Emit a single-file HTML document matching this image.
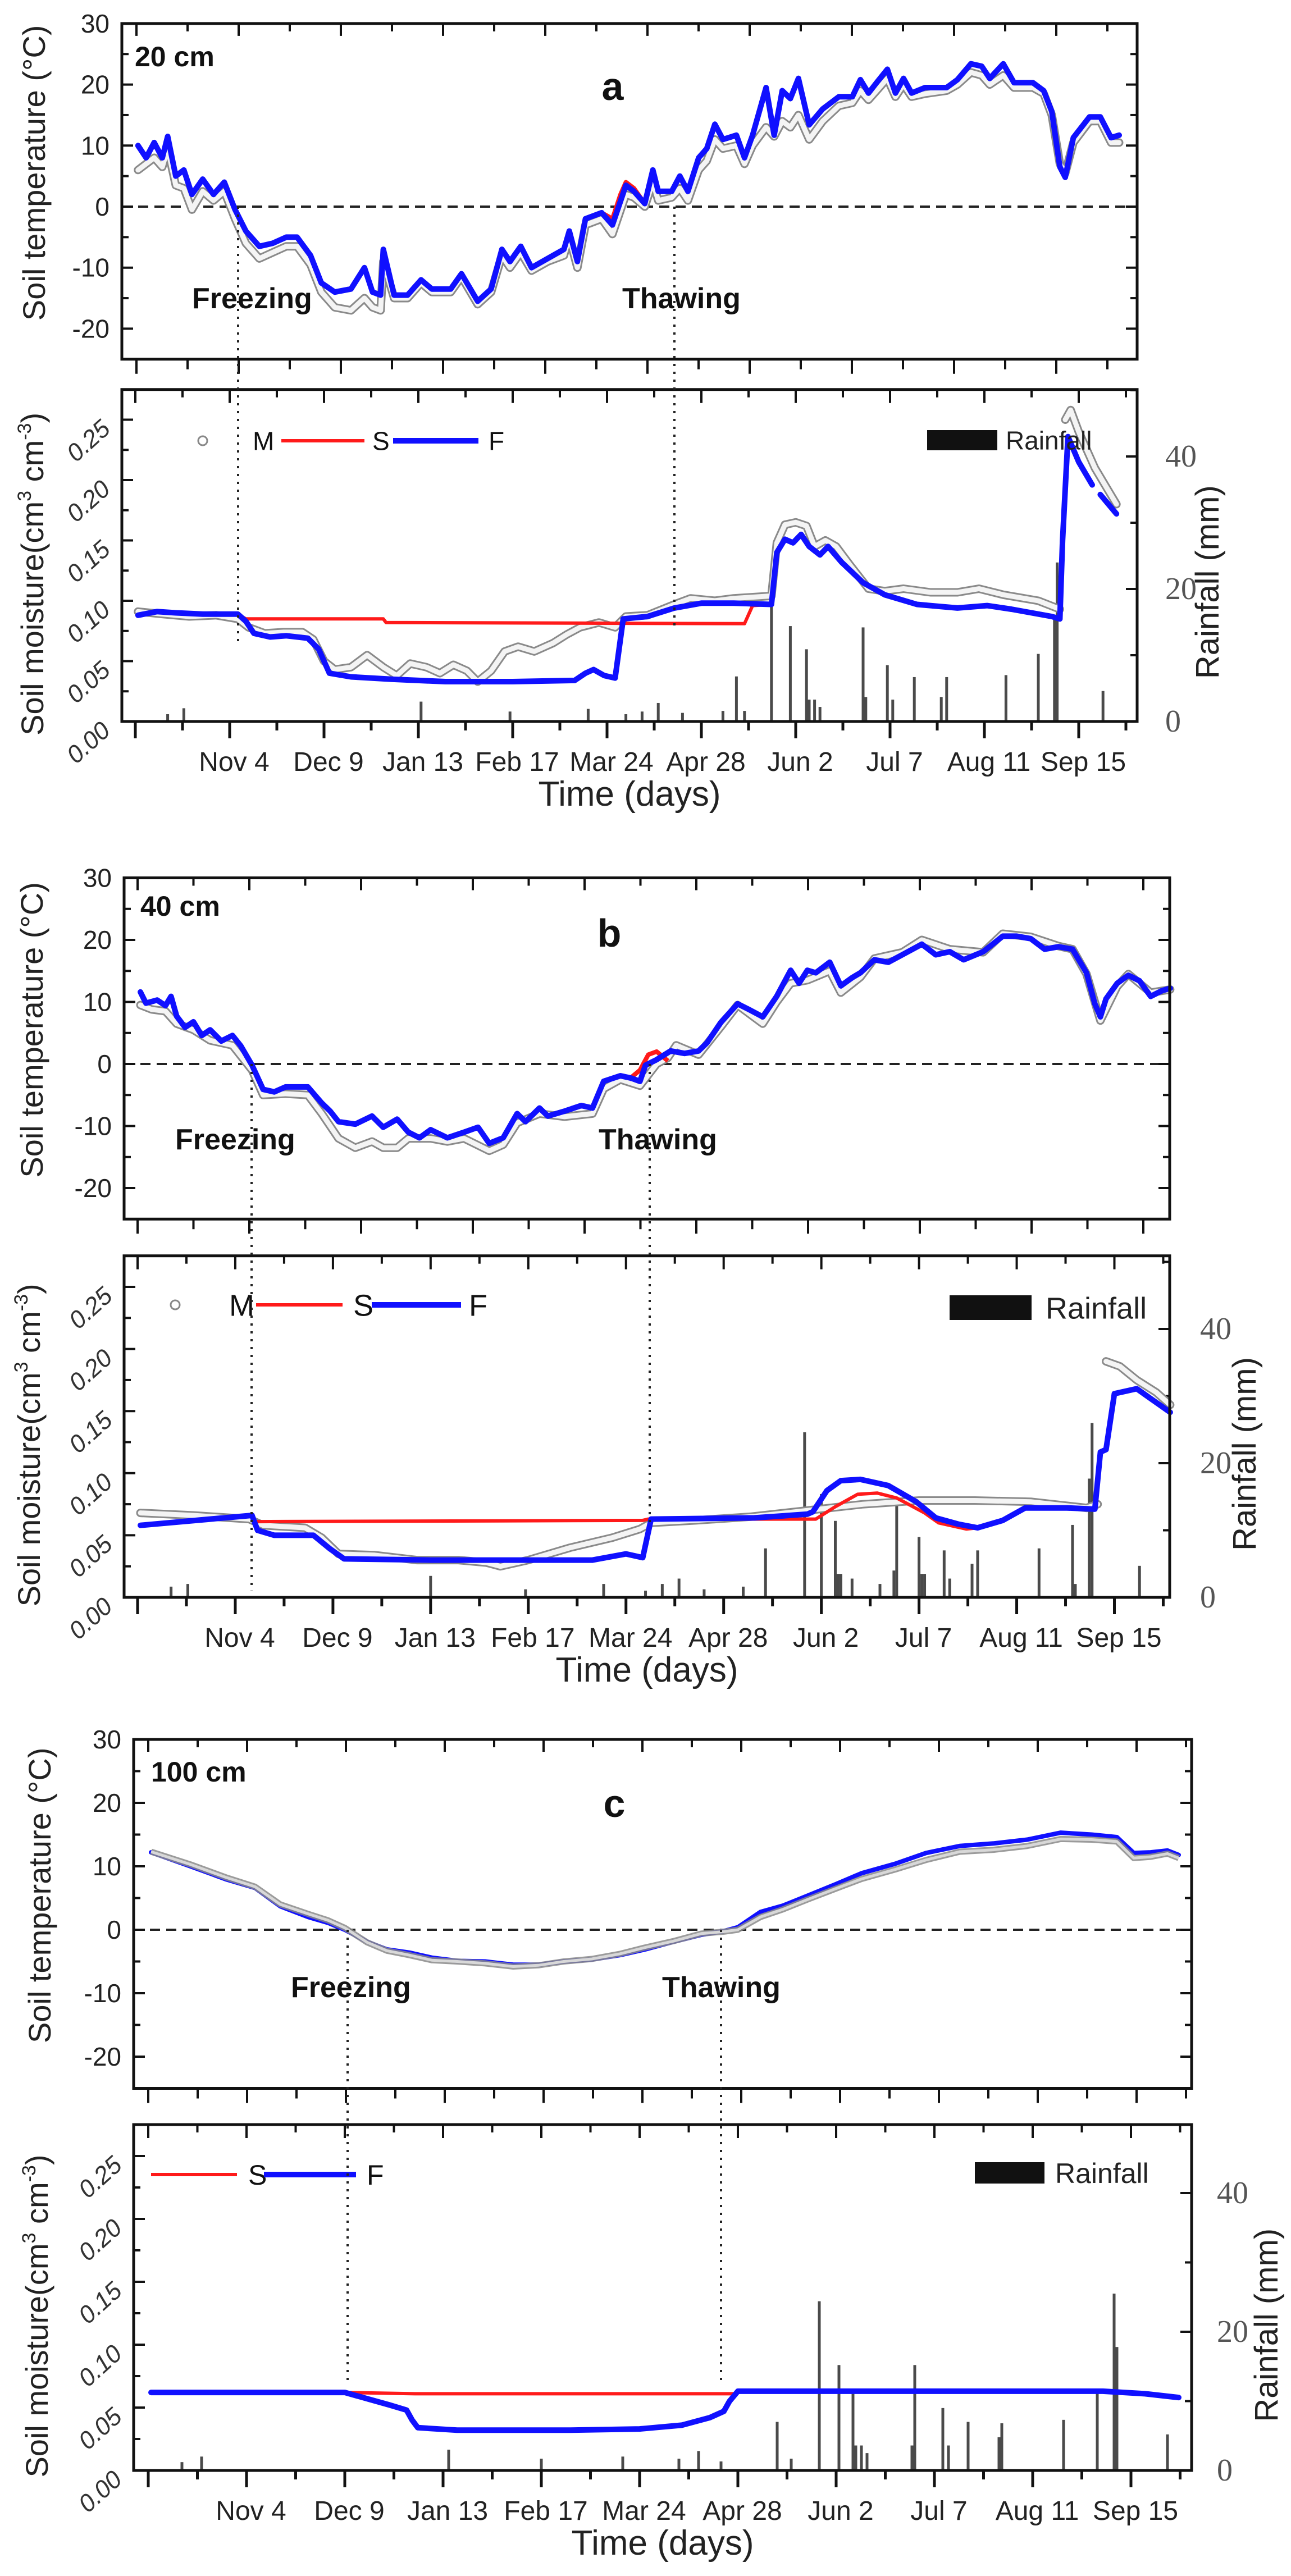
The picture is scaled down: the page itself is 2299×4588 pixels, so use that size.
<!DOCTYPE html>
<html><head><meta charset="utf-8"><title>Soil temperature and moisture</title>
<style>
html,body{margin:0;padding:0;background:#fff;}
svg{display:block;font-family:"Liberation Sans",Arial,sans-serif;}
</style></head>
<body>
<svg id="fig" width="2299" height="4588" viewBox="0 0 2299 4588" xmlns="http://www.w3.org/2000/svg"></svg>
<script>
// ---------- shared tick labels ----------
const dateLabels = ["Nov 4","Dec 9","Jan 13","Feb 17","Mar 24","Apr 28","Jun 2","Jul 7","Aug 11","Sep 15"];
const tempTicks = [30,20,10,0,-10,-20];
const moistTicks = ["0.00","0.05","0.10","0.15","0.20","0.25"];
const moistTickVals = [0,0.05,0.10,0.15,0.20,0.25];
const rainTicks = [0,20,40];

// ---------- panel a (20 cm) ----------
const aTempDays = [1,4,7,10,12,15,18,21,25,29,33,37,41,46,51,56,60,65,69,74,80,85,88,91,92,96,101,106,110,117,121,127,132,136,139,143,147,153,159,161,164,167,173,177,182,185,189,192,194,199,202,205,209,212,215,218,223,226,229,234,237,240,243,246,250,255,261,266,269,272,275,279,282,285,288,293,301,305,310,314,317,322,326,333,337,340,343,345,348,354,358,362,365];
const aTempF = [10,8,10.5,8,11.5,5,6,2,4.5,2,4,-0.5,-4,-6.5,-6,-5,-5,-8,-12.5,-14,-13.5,-10,-14,-14.5,-7,-14.5,-14.5,-12,-13.5,-13.5,-11,-15.5,-13.5,-7,-9,-6.5,-10,-8.5,-7,-4,-9,-2,-1,-3,3.5,2.5,0.5,6,2.5,2.5,5,2.5,8,9.5,13.5,11,11.7,8,11.7,19.5,11.7,19,17.7,21,13.4,16,18,18,20.8,18.6,20.3,22.5,18.6,21,18.6,19.5,19.5,20.8,23.4,23,21,23.4,20.3,20.3,19,15.6,6.5,4.8,11.3,14.7,14.7,11.3,11.7];
const aTempM = [6,7,8,6.5,9.5,3.5,3,-0.5,2.5,1,2.5,-2,-6,-8.5,-7.5,-6.5,-6.5,-9.5,-14,-16.5,-17,-15,-16.5,-17,-9,-15,-15,-12.5,-14,-14,-11.5,-16,-14,-8,-10,-7.5,-10.5,-9,-8,-5,-10,-3,-2,-4.5,2,1.5,0,4,1,1.5,3,1,6,7.5,11,9.5,10,7,10,13,11.5,14,13,15,11,14,16.5,17,19,17.5,19,21,18,20,18,18.5,19,20,22,21.5,20,21.5,19.5,19.5,18.5,15,7,5.5,10.5,14,14,10.5,10.5];
const aTempSDays = [173,177,180,182,185,189];
const aTempS = [-1,-2,2,4,3,0.5];
const aMoistFDays = [1,8,15,25,38,41,44,50,56,64,68,72,80,95,115,140,163,167,170,174,178,181,190,200,210,222,236,238,241,244,247,250,254,257,262,270,278,290,305,316,325,340,343,344,346,350,355];
const aMoistF = [.088,.091,.090,.089,.089,.083,.073,.070,.071,.069,.060,.040,.037,.035,.033,.033,.034,.040,.043,.038,.036,.085,.087,.094,.098,.098,.097,.140,.151,.148,.155,.145,.138,.145,.132,.115,.105,.097,.094,.096,.093,.087,.085,.150,.236,.215,.196];
const aMoistF2Days = [358,364];
const aMoistF2 = [.188,.172];
const aMoistSDays = [1,8,15,25,38,41,92,93,226,229,236];
const aMoistS = [.088,.091,.090,.089,.089,.085,.085,.082,.081,.096,.097];
const aMoistMDays = [1,10,20,30,38,42,48,55,62,66,70,74,80,86,92,97,102,108,113,118,123,127,132,137,142,148,155,160,165,172,178,182,190,200,206,215,222,236,238,241,245,249,252,256,260,265,272,278,285,295,305,313,322,335,343];
const aMoistM = [.091,.089,.087,.088,.085,.078,.073,.074,.074,.068,.050,.043,.045,.055,.045,.038,.048,.045,.040,.047,.042,.033,.042,.058,.062,.058,.065,.072,.078,.082,.078,.087,.088,.097,.102,.100,.102,.104,.148,.163,.165,.162,.145,.150,.145,.130,.110,.108,.110,.107,.107,.110,.105,.100,.093];
const aMoistM2Days = [345,347,350,353,356,360,364];
const aMoistM2 = [.250,.258,.240,.225,.210,.195,.180];
const aRainDays = [12,18,106,139,168,182,188,194,203,218,223,226,236,243,249,250,252,254,270,271,279,281,289,299,301,323,335,341,342,359];
const aRain = [1.1,2,3,1.5,1.9,1.1,1.5,2.8,1.3,1.6,6.8,1.6,18.3,14.4,10.9,3.3,3.3,2.2,14.2,3.7,8.5,3.3,6.7,3.7,6.7,7,10.2,15.9,24,4.6];

// ---------- panel b (40 cm) ----------
const bTempDays = [1,3,7,10,12,14,17,20,23,26,30,34,37,41,45,49,53,61,66,69,72,78,84,88,93,97,101,105,111,117,122,126,131,136,139,144,147,153,159,163,167,173,177,180,182,186,191,196,201,204,209,215,219,224,229,234,237,240,243,248,252,256,259,264,269,274,281,286,291,296,303,310,315,320,325,330,335,340,343,345,347,351,355,359,363,367,370];
const bTempF = [11.6,9.8,10.3,9.4,10.9,7.7,5.9,6.8,4.6,5.5,3.7,4.6,2.9,-0.2,-4.1,-4.5,-3.7,-3.7,-6.3,-7.6,-9.3,-9.7,-8.4,-10.2,-8.9,-11,-11.9,-10.6,-11.9,-11,-10.2,-12.8,-11.9,-8,-9.3,-7.1,-8.4,-7.6,-6.7,-7.1,-2.8,-1.9,-2.3,-2.8,-0.2,0.7,2.1,1.7,2.1,3.4,6.7,9.7,8.8,7.6,10.9,15.1,13,15.1,14.7,16.4,12.6,13.9,14.7,16.8,16.4,17.6,19.3,17.6,18.1,16.8,18.1,20.6,20.6,20.2,18.5,18.9,18.5,14.7,9.7,7.6,10.5,13,14.3,13.4,10.9,11.8,12.2];
const bTempMDays = [1,5,10,14,20,26,34,41,45,53,61,66,72,78,84,88,93,97,105,111,117,126,131,136,144,153,163,167,173,180,186,190,193,201,209,215,224,229,234,240,248,252,259,264,274,281,291,303,310,320,330,335,340,345,351,355,363,370];
const bTempM = [9.5,8.8,8.5,6.5,5.5,3.8,3,-1,-5,-4.8,-5,-8,-12,-13.5,-12.5,-13.5,-13.5,-12,-12,-12.5,-12,-14,-13,-9.5,-8,-8.5,-8,-4,-2.5,-3.5,0,1,3,1.5,6,9.5,6.5,10,13,13.5,15,11.5,14,17,18,20,18.5,18,21,20.5,19,18.5,14.5,7,12.5,14.5,11.5,12];
const bTempSDays = [176,180,183,186,190];
const bTempS = [-2.5,-1,1.5,2,0.5];
const bMoistFDays = [1,41,43,49,63,69,74,105,144,163,175,181,184,221,240,242,247,252,259,269,279,286,294,301,310,318,333,343,345,347,350,358,370];
const bMoistF = [.058,.066,.054,.050,.050,.039,.031,.030,.030,.030,.035,.032,.063,.064,.067,.069,.086,.094,.095,.090,.077,.064,.059,.056,.062,.072,.072,.071,.117,.119,.164,.168,.149];
const bMoistSDays = [1,41,42,181,183,243,250,258,265,272,282,287,297,301];
const bMoistS = [.058,.066,.061,.062,.063,.063,.073,.083,.084,.080,.068,.060,.055,.056];
const bMoistMDays = [1,20,40,45,60,66,72,85,100,115,125,130,140,155,170,180,184,200,220,240,260,280,300,320,340,344];
const bMoistM = [.068,.066,.063,.058,.056,.048,.035,.034,.030,.030,.028,.025,.030,.040,.048,.055,.060,.062,.065,.070,.075,.078,.078,.077,.072,.075];
const bMoistM2Days = [347,352,358,365,370];
const bMoistM2 = [.19,.186,.175,.165,.155];
const bRainDays = [12,18,105,139,167,182,188,194,203,217,225,239,245,250,251,252,256,266,271,272,280,281,282,289,291,299,301,323,335,336,341,342,359];
const bRain = [1.6,2,3.2,1.2,2,1,2,2.8,1.2,1.6,7.3,24.6,15.4,11.4,3.5,3.5,2.8,2,4,15,9,3.5,3.5,7,2.8,5,7,7.3,10.8,2,17.7,26,4.7];

// ---------- panel c (100 cm) ----------
const cTempDays = [1,15,28,38,47,57,64,70,78,85,93,101,110,120,130,139,148,158,168,177,187,197,205,210,218,226,235,245,254,266,277,289,301,313,325,336,345,351,357,363,367];
const cTempF = [12.2,10,7.9,6.6,3.7,2,1.1,0,-1.9,-3.1,-3.6,-4.4,-4.9,-5,-5.5,-5.5,-5,-4.7,-4,-3.1,-1.9,-0.8,-0.2,0.4,2.8,3.8,5.4,7.2,8.9,10.4,12.1,13.2,13.6,14.2,15.3,15,14.6,12.1,12.2,12.5,11.8];
const cTempM = [12.3,10.3,8.2,6.8,4,2.5,1.5,0.3,-2,-3.3,-4,-4.8,-5,-5.3,-5.8,-5.6,-5,-4.6,-3.8,-2.8,-1.8,-0.6,-0.3,0,2,3.2,4.8,6.5,8,9.5,11,12.3,12.6,13.2,14.3,14.2,13.9,11.3,11.5,12,11.3];
const cMoistFDays = [1,70,78,86,92,94,96,110,150,175,190,200,205,207,210,340,355,367];
const cMoistF = [.062,.062,.057,.052,.048,.040,.034,.032,.032,.033,.036,.042,.047,.055,.063,.063,.061,.058];
const cMoistSDays = [1,70,95,210];
const cMoistS = [.062,.062,.061,.061];
const cRainDays = [12,19,107,140,169,189,196,204,224,229,239,246,251,252,254,256,272,273,283,285,292,303,304,326,338,344,345,363];
const cRain = [1.2,2,3,1.7,2,1.7,2.8,1.3,7,1.7,24.4,15.2,11.3,3.6,3.6,2.5,3.6,15.2,9,3.6,7,4.8,6.8,7.3,11.2,25.5,17.8,5.2];

// ---------- geometry (not data) ----------
const panels = [
 {id:"a", depth:"20 cm", letter:"a", L:217,R:2025, t0:368,tK:10.87, mB:1285,mK:2150, rK:11.8, x0:241,xk:4.8, tStart:243,tStep:91,
  hasM:true, rainX:2075, rainTitleX:2150, tempTitleX:62, moistTitleX:59,
  freezeX:424, thawX:1201, freezeEnd:1152, thawEnd:1120, freezeTxt:[342,531], thawTxt:[1108,531], depthTxt:[240,100], letterTxt:[1091,168],
  legend:{cx:361,cy:785, mx:450, red:[501,649], sx:663, blue:[700,852], fx:870, rect:[1651,766,125,36], rtx:1791, fs:46},
  tempDays:aTempDays,tempF:aTempF,tempM:aTempM,tempMDays:aTempDays,tempSDays:aTempSDays,tempS:aTempS,
  mFD:[aMoistFDays,aMoistF2Days], mF:[aMoistF,aMoistF2], mSD:aMoistSDays, mS:aMoistS, mMD:[aMoistMDays,aMoistM2Days], mM:[aMoistM,aMoistM2],
  rainD:aRainDays, rain:aRain},
 {id:"b", depth:"40 cm", letter:"b", L:221,R:2083, t0:1895,tK:11.05, mB:2845,mK:2212, rK:11.95, x0:245,xk:4.97, tStart:245,tStep:99.5,
  hasM:true, rainX:2137, rainTitleX:2216, tempTitleX:58, moistTitleX:53,
  freezeX:448, thawX:1157, freezeEnd:2834, thawEnd:2713, freezeTxt:[312,2029], thawTxt:[1066,2029], depthTxt:[250,1613], letterTxt:[1085,1676],
  legend:{cx:312,cy:2324, mx:408, red:[456,610], sx:629, blue:[662,821], fx:835, rect:[1691,2307,146,44], rtx:1862, fs:54},
  tempDays:bTempDays,tempF:bTempF,tempM:bTempM,tempMDays:bTempMDays,tempSDays:bTempSDays,tempS:bTempS,
  mFD:[bMoistFDays], mF:[bMoistF], mSD:bMoistSDays, mS:bMoistS, mMD:[bMoistMDays,bMoistM2Days], mM:[bMoistM,bMoistM2],
  rainD:bRainDays, rain:bRain},
 {id:"c", depth:"100 cm", letter:"c", L:238,R:2122, t0:3437,tK:11.3, mB:4400,mK:2240, rK:12.35, x0:264,xk:5.0, tStart:264,tStep:88,
  hasM:false, rainX:2167, rainTitleX:2255, tempTitleX:72, moistTitleX:67,
  freezeX:619, thawX:1284, freezeEnd:4245, thawEnd:4240, freezeTxt:[518,3539], thawTxt:[1179,3539], depthTxt:[269,3155], letterTxt:[1094,3226],
  legend:{cx:0,cy:3873, mx:0, red:[269,422], sx:442, blue:[470,634], fx:653, rect:[1736,3851,124,38], rtx:1879, fs:50},
  tempDays:cTempDays,tempF:cTempF,tempM:cTempM,tempMDays:cTempDays,tempSDays:[],tempS:[],
  mFD:[cMoistFDays], mF:[cMoistF], mSD:cMoistSDays, mS:cMoistS, mMD:[], mM:[],
  rainD:cRainDays, rain:cRain}
];

const NS = "http://www.w3.org/2000/svg";
const svg = document.getElementById("fig");
function mk(tag, attrs, parent){
  const e = document.createElementNS(NS, tag);
  for (const k in attrs) e.setAttribute(k, attrs[k]);
  (parent||svg).appendChild(e);
  return e;
}
function txt(s, attrs, parent){ const e = mk("text", attrs, parent); e.textContent = s; return e; }

panels.forEach(p => {
  const g = mk("g", {});
  
  
  const tTop = p.t0 - 30*p.tK, tBot = p.t0 + 25*p.tK;
  const mTop = p.mB - 0.275*p.mK;
  const xs = d => p.x0 + d*p.xk;
  const yT = v => p.t0 - v*p.tK;
  const yM = v => p.mB - v*p.mK;
  const yR = v => p.mB - v*p.rK;
  const pts = (ds, vs, fy) => ds.map((d,i) => xs(d).toFixed(1)+","+fy(vs[i]).toFixed(1)).join(" ");

  // ===== temperature panel =====
  const tg = mk("g", {}, g);
  
  
  const zl = mk("line", {x1:p.L, x2:p.R, y1:yT(0), y2:yT(0), stroke:"#222", "stroke-width":4, "stroke-dasharray":"18 11"}, tg);
  
  
  for (let v=-25; v<=30; v+=5){
    const y = yT(v), len = (v%10===0)?20:12;
    mk("line",{x1:p.L,x2:p.L+len,y1:y,y2:y,stroke:"#111","stroke-width":4},tg);
    mk("line",{x1:p.R,x2:p.R-len,y1:y,y2:y,stroke:"#111","stroke-width":4},tg);
  }
  tempTicks.forEach(v => {
    const t = txt(String(v), {x:p.L-22, y:yT(v)+16, "font-size":46, "text-anchor":"end", fill:"#222"}, tg);
    
    
  });
  for (let i=0, x=p.tStart; x<p.R-5; i++, x+=p.tStep){
    mk("line",{x1:x,x2:x,y1:tTop,y2:tTop+(i%2===0?22:14),stroke:"#111","stroke-width":4},tg);
    mk("line",{x1:x,x2:x,y1:tBot,y2:tBot+(i%2===0?26:18),stroke:"#111","stroke-width":4},tg);
  }
  if (p.hasM){
    const m1 = mk("polyline",{points:pts(p.tempMDays,p.tempM,yT),fill:"none",stroke:"#8a8a8a","stroke-width":15,"stroke-linejoin":"round","stroke-linecap":"round"},tg);
    
    
    mk("polyline",{points:pts(p.tempMDays,p.tempM,yT),fill:"none",stroke:"#f4f4f4","stroke-width":9,"stroke-linejoin":"round","stroke-linecap":"round"},tg);
  }
  if (p.tempS.length){
    const s = mk("polyline",{points:pts(p.tempSDays,p.tempS,yT),fill:"none",stroke:"#ff1a1a","stroke-width":8,"stroke-linejoin":"round"},tg);
    
    
  }
  const f = mk("polyline",{points:pts(p.tempDays,p.tempF,yT),fill:"none",stroke:"#1010ff","stroke-width":p.id==="c"?8:10,"stroke-linejoin":"round","stroke-linecap":"round"},tg);
  
  
  if (!p.hasM){
    const m1 = mk("polyline",{points:pts(p.tempDays,p.tempM,yT),fill:"none",stroke:"#8a8a8a","stroke-width":11,"stroke-linejoin":"round","stroke-opacity":0.85},tg);
    
    
    mk("polyline",{points:pts(p.tempDays,p.tempM,yT),fill:"none",stroke:"#d8d8d8","stroke-width":5,"stroke-linejoin":"round"},tg);
  }
  const fr = mk("rect",{x:p.L,y:tTop,width:p.R-p.L,height:tBot-tTop,fill:"none",stroke:"#111","stroke-width":5},tg);
  
  
  const dt = txt(p.depth,{x:p.depthTxt[0], y:p.depthTxt[1]+18,"font-size":50,"font-weight":"bold",fill:"#111"},tg);
  
  
  const lt = txt(p.letter,{x:p.letterTxt[0],y:p.letterTxt[1]+10,"font-size":70,"font-weight":"bold","text-anchor":"middle",fill:"#111"},tg);
  
  
  const fz = txt("Freezing",{x:p.freezeTxt[0],y:p.freezeTxt[1]+18,"font-size":52,"font-weight":"bold",fill:"#111"},tg);
  
  
  const th = txt("Thawing",{x:p.thawTxt[0],y:p.thawTxt[1]+18,"font-size":52,"font-weight":"bold",fill:"#111"},tg);
  
  
  const ttl = txt("Soil temperature (°C)",{x:0,y:0,"font-size":56,"text-anchor":"middle",fill:"#222",transform:`translate(${p.tempTitleX+18},${(tTop+tBot)/2-33}) rotate(-90)`},tg);
  
  

  // ===== moisture panel =====
  const mg = mk("g", {}, g);
  
  
  p.rainD.forEach((d,i) => {
    const b = mk("rect",{x:xs(d)-2.5,y:yR(p.rain[i]),width:5,height:p.rain[i]*p.rK,fill:"#4a4a4a"},mg);
    
    
  });
  for (let v=0; v<=0.2751; v+=0.025){
    const y = yM(v), len = (Math.round(v*1000)%50===0)?20:12;
    mk("line",{x1:p.L,x2:p.L+len,y1:y,y2:y,stroke:"#111","stroke-width":4},mg);
  }
  moistTickVals.forEach((v,i) => {
    const t = txt(moistTicks[i],{x:0,y:0,"font-size":44,"font-style":"italic","text-anchor":"end",fill:"#333",transform:`translate(${p.L-18},${yM(v)+20}) rotate(-42)`},mg);
    
    
  });
  for (let v=0; v*p.rK < p.mB-mTop; v+=10){
    const y = yR(v), len = (v%20===0)?20:12;
    mk("line",{x1:p.R,x2:p.R-len,y1:y,y2:y,stroke:"#111","stroke-width":4},mg);
  }
  rainTicks.forEach(v => {
    const t = txt(String(v),{x:p.rainX,y:yR(v)+18,"font-size":56,"font-family":"Liberation Serif, serif",fill:"#555"},mg);
    
    
  });
  for (let k=0; k<=22; k++){
    const x = xs(k*17.5); if (x > p.R-4) break;
    const major = k%2===0;
    mk("line",{x1:x,x2:x,y1:p.mB,y2:p.mB+(major?30:16),stroke:"#111","stroke-width":5},mg);
    mk("line",{x1:x,x2:x,y1:mTop,y2:mTop+(major?24:14),stroke:"#111","stroke-width":4},mg);
  }
  dateLabels.forEach((s,i) => {
    const t = txt(s,{x:xs((i+1)*35)+8,y:p.mB+88,"font-size":48,"text-anchor":"middle",fill:"#222"},mg);
    
    
  });
  const tx = txt("Time (days)",{x:(p.L+p.R)/2,y:p.mB+150,"font-size":62,"text-anchor":"middle",fill:"#222"},mg);
  
  
  p.mMD.forEach((ds,j) => {
    const m1 = mk("polyline",{points:pts(ds,p.mM[j],yM),fill:"none",stroke:"#8a8a8a","stroke-width":15,"stroke-linejoin":"round","stroke-linecap":"round"},mg);
    
    
    mk("polyline",{points:pts(ds,p.mM[j],yM),fill:"none",stroke:"#f4f4f4","stroke-width":9,"stroke-linejoin":"round","stroke-linecap":"round"},mg);
  });
  const ms = mk("polyline",{points:pts(p.mSD,p.mS,yM),fill:"none",stroke:"#ff1a1a","stroke-width":6,"stroke-linejoin":"round"},mg);
  
  
  p.mFD.forEach((ds,j) => {
    const mf = mk("polyline",{points:pts(ds,p.mF[j],yM),fill:"none",stroke:"#1010ff","stroke-width":10,"stroke-linejoin":"round","stroke-linecap":"round"},mg);
    
    
  });
  const fr2 = mk("rect",{x:p.L,y:mTop,width:p.R-p.L,height:p.mB-mTop,fill:"none",stroke:"#111","stroke-width":5},mg);
  
  
  const mt = mk("text",{x:0,y:0,"font-size":56,"text-anchor":"middle",fill:"#222",transform:`translate(${p.moistTitleX+18},${(mTop+p.mB)/2+33}) rotate(-90)`},mg);
  
  
  mt.innerHTML = 'Soil moisture(cm<tspan dy="-22" font-size="34">3</tspan><tspan dy="22"> cm</tspan><tspan dy="-22" font-size="34">-3</tspan><tspan dy="22">)</tspan>';
  const rt = txt("Rainfall (mm)",{x:0,y:0,"font-size":58,"text-anchor":"middle",fill:"#222",transform:`translate(${p.rainTitleX+20},${p.mB-(p.mB-mTop)*0.42}) rotate(-90)`},mg);
  
  
  const lg = mk("g",{},mg);
  
  
  const L = p.legend;
  if (p.hasM){
    const c = mk("circle",{cx:L.cx,cy:L.cy,r:8,fill:"#fff",stroke:"#888","stroke-width":3},lg);
    
    
    const t = txt("M",{x:L.mx,y:L.cy+L.fs*0.36,"font-size":L.fs,fill:"#111"},lg);
    
    
  }
  const lr = mk("line",{x1:L.red[0],x2:L.red[1],y1:L.cy,y2:L.cy,stroke:"#ff1a1a","stroke-width":6},lg);
  
  
  const ls = txt("S",{x:L.sx,y:L.cy+L.fs*0.36,"font-size":L.fs,fill:"#111"},lg);
  
  
  const lb = mk("line",{x1:L.blue[0],x2:L.blue[1],y1:L.cy,y2:L.cy,stroke:"#1010ff","stroke-width":10},lg);
  
  
  const lf = txt("F",{x:L.fx,y:L.cy+L.fs*0.36,"font-size":L.fs,fill:"#111"},lg);
  
  
  const rr = mk("rect",{x:L.rect[0],y:L.rect[1],width:L.rect[2],height:L.rect[3],fill:"#111"},lg);
  
  
  const rtx = txt("Rainfall",{x:L.rtx,y:L.rect[1]+L.rect[3]/2+L.fs*0.36,"font-size":L.fs,fill:"#222"},lg);
  
  

  const dl1 = mk("line",{x1:p.freezeX,x2:p.freezeX,y1:yT(0),y2:p.freezeEnd,stroke:"#222","stroke-width":4,"stroke-dasharray":"4 10"},g);
  
  
  const dl2 = mk("line",{x1:p.thawX,x2:p.thawX,y1:yT(0),y2:p.thawEnd,stroke:"#222","stroke-width":4,"stroke-dasharray":"4 10"},g);
  
  
});
</script>
</body></html>
